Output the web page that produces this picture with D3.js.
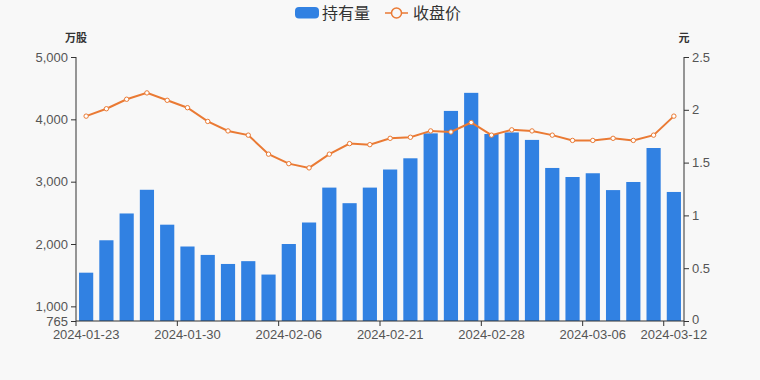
<!DOCTYPE html>
<html><head><meta charset="utf-8">
<script src="https://cdn.jsdelivr.net/npm/d3@7"></script>
<style>
html,body{margin:0;padding:0;background:#f8f8f8;}
svg{display:block;font-family:"Liberation Sans","Noto Sans CJK SC",sans-serif;}
</style></head>
<body>
<svg id="chart" width="760" height="380"></svg>
<script>
const dates = ["2024-01-23","2024-01-24","2024-01-25","2024-01-26","2024-01-29","2024-01-30","2024-01-31","2024-02-01","2024-02-02","2024-02-05","2024-02-06","2024-02-07","2024-02-08","2024-02-19","2024-02-20","2024-02-21","2024-02-22","2024-02-23","2024-02-26","2024-02-27","2024-02-28","2024-02-29","2024-03-01","2024-03-04","2024-03-05","2024-03-06","2024-03-07","2024-03-08","2024-03-11","2024-03-12"];
const holdings = [1540,2060,2490,2870,2310,1960,1825,1680,1725,1510,2000,2345,2905,2655,2905,3195,3375,3775,4135,4425,3765,3790,3670,3220,3075,3135,2865,2995,3540,2835];
const prices = [1.94,2.01,2.10,2.16,2.09,2.02,1.89,1.80,1.76,1.58,1.49,1.45,1.58,1.68,1.67,1.73,1.74,1.80,1.79,1.88,1.76,1.81,1.80,1.76,1.71,1.71,1.73,1.71,1.76,1.94];
const leftTicks = [765,1000,2000,3000,4000,5000];
const rightTicks = [0,0.5,1,1.5,2,2.5];
const xLabelIdx = [0,5,10,15,20,25,29];

const svg = d3.select("#chart");
const L = 76, R = 684, T = 57, B = 321;
const x = d3.scaleBand().domain(dates).range([L, R]).paddingInner(0.3).paddingOuter(0.15);
const yL = d3.scaleLinear().domain([765, 5000]).range([B, T]);
const yR = d3.scaleLinear().domain([0, 2.5]).range([B, T]);
const barColor = "#3181e2", lineColor = "#ea7a34", axisColor = "#333", textColor = "#555";

// bars
svg.append("g").selectAll("rect").data(holdings).join("rect")
  .attr("x", (d,i) => x(dates[i]))
  .attr("y", d => yL(d))
  .attr("width", x.bandwidth())
  .attr("height", d => B - yL(d))
  .attr("fill", barColor);

// line
const cx = i => x(dates[i]) + x.bandwidth()/2;
svg.append("path").datum(prices)
  .attr("fill","none").attr("stroke",lineColor).attr("stroke-width",2)
  .attr("d", d3.line().x((d,i)=>cx(i)).y(d=>yR(d)));
svg.append("g").selectAll("circle").data(prices).join("circle")
  .attr("cx",(d,i)=>cx(i)).attr("cy",d=>yR(d)).attr("r",2.2)
  .attr("fill","#fff").attr("stroke",lineColor).attr("stroke-width",1);

// left axis
const gL = svg.append("g").attr("transform",`translate(${L},0)`)
  .call(d3.axisLeft(yL).tickValues(leftTicks).tickFormat(d3.format(",")).tickSize(5).tickPadding(3));
// right axis
const gR = svg.append("g").attr("transform",`translate(${R},0)`)
  .call(d3.axisRight(yR).tickValues(rightTicks).tickFormat(d => d).tickSize(5).tickPadding(3));
[gL,gR].forEach(g=>{
  g.select(".domain").attr("stroke",axisColor).attr("d", `M0,${T}V${B}`);
  g.selectAll(".tick line").attr("stroke",axisColor);
  g.selectAll(".tick text").attr("fill",textColor).attr("font-size",13).attr("font-family",null);
});
gR.selectAll(".tick text").filter(d => d === 0).attr("dy","0.2em");

// x axis
const xAxis = svg.append("g").attr("transform",`translate(0,${B})`);
xAxis.append("line").attr("x1",L).attr("x2",R).attr("stroke",axisColor);
const boundary = i => L + (R-L)*i/dates.length;
xAxis.selectAll("line.tk").data([...xLabelIdx, dates.length]).join("line").attr("class","tk")
  .attr("x1",i=>boundary(i)).attr("x2",i=>boundary(i)).attr("y1",0).attr("y2",5).attr("stroke",axisColor);
xAxis.selectAll("text").data(xLabelIdx).join("text")
  .attr("x",i=>cx(i)).attr("y",18).attr("text-anchor","middle")
  .attr("font-size",13).attr("fill",textColor).text(i=>dates[i]);

// axis titles
svg.append("text").attr("x",L).attr("y",42).attr("text-anchor","middle")
  .attr("font-size",11).attr("font-weight","bold").attr("fill","#333").text("万股");
svg.append("text").attr("x",R).attr("y",42).attr("text-anchor","middle")
  .attr("font-size",11).attr("font-weight","bold").attr("fill","#333").text("元");

// legend
const lg = svg.append("g");
lg.append("rect").attr("x",295).attr("y",7).attr("width",24).attr("height",11.5).attr("rx",4).attr("fill",barColor);
lg.append("text").attr("x",322).attr("y",19).attr("font-size",16).attr("fill","#333").text("持有量");
lg.append("line").attr("x1",385).attr("x2",408).attr("y1",13).attr("y2",13).attr("stroke",lineColor).attr("stroke-width",1.5);
lg.append("circle").attr("cx",396.5).attr("cy",13).attr("r",5).attr("fill","#f8f8f8").attr("stroke",lineColor).attr("stroke-width",1.5);
lg.append("text").attr("x",413).attr("y",19).attr("font-size",16).attr("fill","#333").text("收盘价");
</script>
</body></html>
